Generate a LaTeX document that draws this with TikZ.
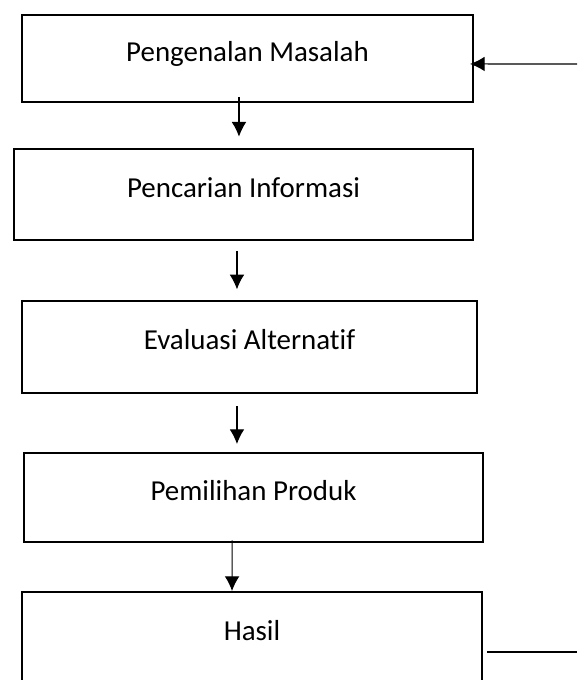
\documentclass[tikz,border=0pt]{standalone}
\usepackage{fontspec}
\setmainfont{Carlito}[Ligatures=NoCommon]
\usepackage{tikz}
\usetikzlibrary{arrows.meta}
\tikzset{
	stagebox/.style={draw, line width=1.5pt, rectangle, inner sep=0pt,
		font=\fontsize{21.7}{26}\selectfont, text height=15pt, text depth=11pt},
	flowarrow/.style={-{Latex[length=11pt,width=11pt]}, line width=0.8pt}
}

\begin{document}
\begin{tikzpicture}[x=0.75pt, y=-0.75pt]
\useasboundingbox (0,0) rectangle (577,680);
\clip (0,0) rectangle (577,680);

\node[stagebox, minimum width=451*0.75pt, minimum height=87*0.75pt] (masalah) at (247.5,58.5) {Pengenalan Masalah};
\node[stagebox, minimum width=459*0.75pt, minimum height=91*0.75pt] (informasi) at (243.5,194.5) {Pencarian Informasi};
\node[stagebox, minimum width=455*0.75pt, minimum height=92*0.75pt] (evaluasi) at (249.5,347) {Evaluasi Alternatif};
\node[stagebox, minimum width=459*0.75pt, minimum height=89*0.75pt] (pemilihan) at (253.5,497.5) {Pemilihan Produk};
\node[stagebox, minimum width=460*0.75pt, minimum height=92*0.75pt] (hasil) at (252,638) {Hasil};

\coordinate (masuk) at (577,64);
\coordinate (keluar) at (577,652);

\draw[flowarrow] ([xshift=-6.4pt,yshift=4.5pt]masalah.south) -- ([xshift=-3.4pt,yshift=8.5pt]informasi.north);
\draw[flowarrow] ([xshift=-4.9pt,yshift=-7.5pt]informasi.south) -- ([xshift=-9.4pt,yshift=8pt]evaluasi.north);
\draw[flowarrow] ([xshift=-9.4pt,yshift=-9pt]evaluasi.south) -- ([xshift=-12.4pt,yshift=6pt]pemilihan.north);
\draw[flowarrow] ([xshift=-16pt,yshift=2pt]pemilihan.south) -- ([xshift=-15pt]hasil.north);

\draw[flowarrow] (masuk) -- ([xshift=-3pt,yshift=-4.1pt]masalah.east);
\draw[line width=0.8pt] ([xshift=3pt,yshift=-10.5pt]hasil.east) -- (keluar);
\end{tikzpicture}
\end{document}
